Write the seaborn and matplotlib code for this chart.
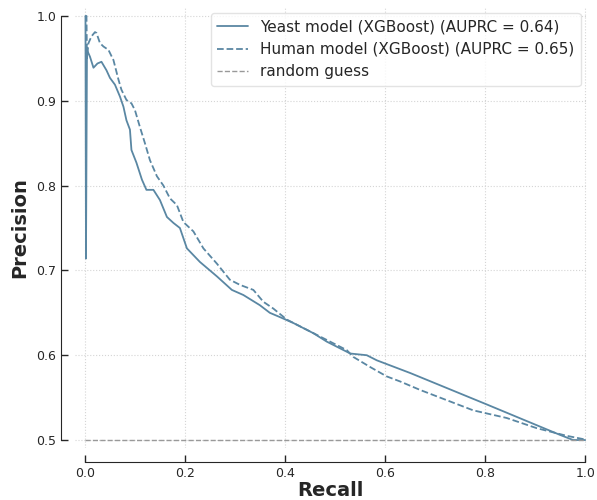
import matplotlib
matplotlib.use("Agg")
import matplotlib.pyplot as plt
import seaborn as sns
import pandas as pd

yeast_recall = [0.0, 0.001, 0.003, 0.009, 0.016, 0.024, 0.032, 0.042, 0.049, 0.059, 0.069, 0.076,
                0.082, 0.089, 0.092, 0.102, 0.113, 0.122, 0.136, 0.149, 0.163, 0.176, 0.189,
                0.203, 0.229, 0.263, 0.293, 0.316, 0.349, 0.369, 0.389, 0.416, 0.456, 0.483,
                0.53, 0.563, 0.583, 0.65, 0.803, 0.95, 0.976, 0.996, 1.0]
yeast_precision = [1.0, 0.714, 0.96, 0.952, 0.939, 0.944, 0.946, 0.936, 0.927, 0.919, 0.905, 0.893,
                   0.877, 0.866, 0.842, 0.827, 0.807, 0.795, 0.795, 0.783, 0.763, 0.756, 0.75,
                   0.726, 0.71, 0.693, 0.677, 0.671, 0.659, 0.65, 0.645, 0.638, 0.626, 0.616,
                   0.602, 0.600, 0.594, 0.579, 0.542, 0.506, 0.5, 0.5, 0.5]

human_recall = [0.0, 0.002, 0.003, 0.006, 0.012, 0.019, 0.022, 0.029, 0.036, 0.046, 0.056, 0.066,
                0.072, 0.082, 0.092, 0.099, 0.109, 0.119, 0.129, 0.143, 0.156, 0.169, 0.183,
                0.196, 0.216, 0.236, 0.263, 0.289, 0.309, 0.336, 0.356, 0.376, 0.403, 0.443,
                0.483, 0.523, 0.536, 0.57, 0.603, 0.63, 0.67, 0.723, 0.776, 0.843, 0.903,
                0.963, 0.997, 1.0]
human_precision = [1.0, 1.0, 0.95, 0.968, 0.976, 0.981, 0.98, 0.968, 0.964, 0.96, 0.948, 0.925,
                   0.913, 0.901, 0.897, 0.889, 0.869, 0.85, 0.83, 0.811, 0.8, 0.785, 0.777,
                   0.757, 0.746, 0.726, 0.708, 0.689, 0.683, 0.677, 0.663, 0.655, 0.642, 0.630,
                   0.618, 0.606, 0.598, 0.586, 0.575, 0.569, 0.559, 0.547, 0.535, 0.526, 0.514,
                   0.505, 0.501, 0.5]

baseline_recall = [0.0, 1.0]
baseline_precision = [0.5, 0.5]

labels = ["Yeast model (XGBoost) (AUPRC = 0.64)",
          "Human model (XGBoost) (AUPRC = 0.65)",
          "random guess"]

sns.set_style("ticks", {"axes.grid": True, "grid.linestyle": ":", "grid.color": "#d5d5d5",
                        "xtick.direction": "in", "ytick.direction": "in",
                        "axes.edgecolor": "#262626"})
plt.rcParams['font.family'] = ['DejaVu Sans']

fig = plt.figure(figsize=(5.97, 5.0), dpi=100)
ax = fig.add_axes([0.1256, 0.104, 0.857, 0.882])

line_color = "#5a87a3"
df_y = pd.DataFrame({"Recall": yeast_recall, "Precision": yeast_precision})
df_h = pd.DataFrame({"Recall": human_recall, "Precision": human_precision})
df_b = pd.DataFrame({"Recall": baseline_recall, "Precision": baseline_precision})

sns.lineplot(data=df_y, x="Recall", y="Precision", ax=ax, color=line_color, lw=1.3,
             sort=False, estimator=None, label=labels[0])
sns.lineplot(data=df_h, x="Recall", y="Precision", ax=ax, color=line_color, lw=1.3,
             linestyle="--", sort=False, estimator=None, label=labels[1])
sns.lineplot(data=df_b, x="Recall", y="Precision", ax=ax, color="#999999", lw=1.0,
             linestyle="--", sort=False, estimator=None, label=labels[2])

ax.set_xlim(-0.021, 1.003)
ax.set_ylim(0.4906, 1.0106)
ax.set_xticks([0.0, 0.2, 0.4, 0.6, 0.8, 1.0])
ax.set_yticks([0.5, 0.6, 0.7, 0.8, 0.9, 1.0])
ax.tick_params(labelsize=9, colors="#262626", length=5, width=1)
ax.set_xlabel("Recall", fontsize=14, fontweight="bold", color="#262626", labelpad=1)
ax.set_ylabel("Precision", fontsize=14, fontweight="bold", color="#262626", labelpad=5)
sns.despine(ax=ax, offset=10, trim=True)

leg = ax.legend(loc="upper right", fontsize=11, frameon=True, handlelength=2.0,
                borderaxespad=0.4)
leg.get_frame().set_edgecolor("#dddddd")

fig.savefig("out.png", dpi=100)
